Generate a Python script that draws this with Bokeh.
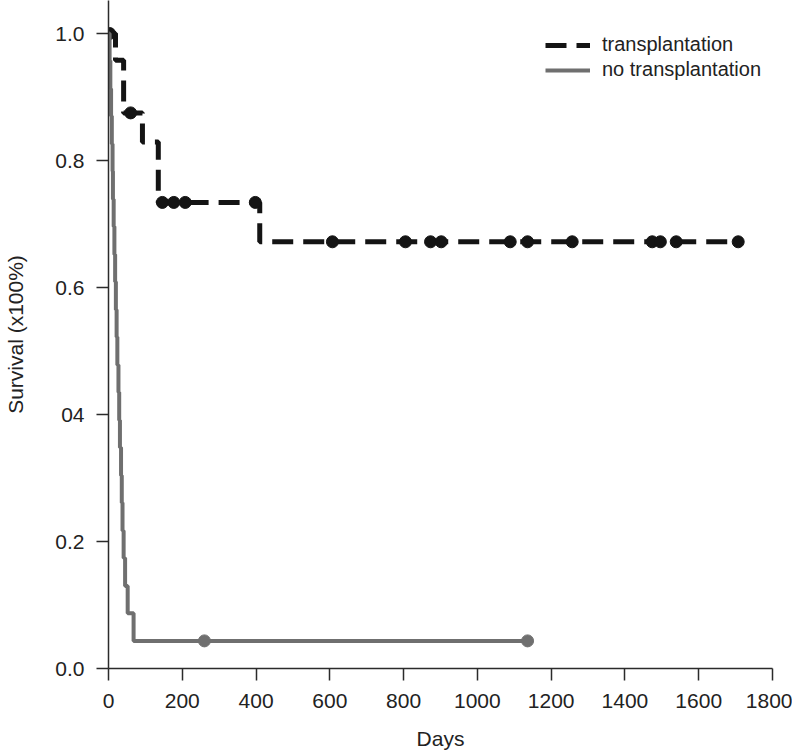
from bokeh.plotting import figure
from bokeh.models import Range1d, FixedTicker, Legend, LegendItem
from bokeh.embed import file_html
from bokeh.resources import INLINE

# --- data ---
# transplantation: Kaplan-Meier steps (day, survival)
tx_step_days = [0, 19, 41, 92, 135, 410, 1707]
tx_step_surv = [1.0, 0.958, 0.875, 0.829, 0.734, 0.672, 0.672]
# censored patients (transplantation)
tx_cens_days = [3, 60, 146, 177, 208, 398, 607, 805, 873, 902, 1089, 1136, 1257, 1474, 1496, 1539, 1707]
tx_cens_surv = [1.0, 0.875, 0.734, 0.734, 0.734, 0.734, 0.672, 0.672, 0.672, 0.672, 0.672,
                0.672, 0.672, 0.672, 0.672, 0.672, 0.672]

# no transplantation: Kaplan-Meier steps (day, survival)
no_step_days = [0, 3, 5, 7, 9, 11, 12, 14, 16, 18, 20, 22, 24, 27, 29, 31, 34, 36, 38, 41, 45, 52, 68, 1136]
no_step_surv = [1.0, 0.957, 0.913, 0.870, 0.826, 0.783, 0.739, 0.696, 0.652, 0.609, 0.565, 0.522,
                0.478, 0.435, 0.391, 0.348, 0.304, 0.261, 0.217, 0.174, 0.130, 0.087, 0.0435, 0.0435]
no_cens_days = [260, 1136]
no_cens_surv = [0.0435, 0.0435]

x_ticks = [0, 200, 400, 600, 800, 1000, 1200, 1400, 1600, 1800]
y_ticks = [0.0, 0.2, 0.4, 0.6, 0.8, 1.0]
y_tick_labels = ["0.0", "0.2", "04", "0.6", "0.8", "1.0"]

BLACK = "#141414"
GRAY = "#6f6f6f"
AXIS = "#2b2b2b"
TEXT = "#222222"
FONT = "Liberation Sans"

p = figure(width=792, height=754, output_backend="svg", toolbar_location=None,
           x_range=Range1d(0, 1800), y_range=Range1d(0, 1.052),
           min_border_left=108, min_border_right=20, min_border_top=0, min_border_bottom=86)
p.outline_line_color = None
p.grid.visible = False
p.background_fill_color = "white"

r_tx = p.step(tx_step_days, tx_step_surv, mode="after", line_color=BLACK, line_width=5,
              line_dash="21 10")
p.scatter(tx_cens_days, tx_cens_surv, size=12, fill_color=BLACK, line_color=BLACK)

r_no = p.step(no_step_days, no_step_surv, mode="after", line_color=GRAY, line_width=4)
p.scatter(no_cens_days, no_cens_surv, size=12, fill_color=GRAY, line_color=GRAY)

for ax in (p.xaxis, p.yaxis):
    ax.axis_line_color = AXIS
    ax.axis_line_width = 1.5
    ax.major_tick_line_color = AXIS
    ax.major_tick_line_width = 1.5
    ax.major_tick_in = 0
    ax.major_tick_out = 12
    ax.minor_tick_line_color = None
    ax.major_label_text_color = TEXT
    ax.major_label_text_font = FONT
    ax.major_label_text_font_size = "21px"
    ax.axis_label_text_color = TEXT
    ax.axis_label_text_font = FONT
    ax.axis_label_text_font_size = "21px"
    ax.axis_label_text_font_style = "normal"

p.xaxis.ticker = FixedTicker(ticks=x_ticks)
p.xaxis.major_label_standoff = 13
p.xaxis.axis_label = "Days"
p.xaxis.axis_label_standoff = 16

p.yaxis.ticker = FixedTicker(ticks=y_ticks)
p.yaxis.major_label_overrides = dict(zip(y_ticks, y_tick_labels))
p.yaxis.major_label_standoff = 12
p.yaxis.axis_label = "Survival (x100%)"
p.yaxis.axis_label_standoff = 25

legend = Legend(items=[LegendItem(label="transplantation", renderers=[r_tx]),
                       LegendItem(label="no transplantation", renderers=[r_no])],
                location=(437, 587), padding=0, margin=0, spacing=2,
                glyph_width=45, glyph_height=20, label_height=20, label_standoff=12,
                label_text_font=FONT, label_text_font_size="20px",
                label_text_color=TEXT, border_line_color=None, background_fill_alpha=0)
p.add_layout(legend)

open("out.html", "w").write(file_html(p, INLINE))
